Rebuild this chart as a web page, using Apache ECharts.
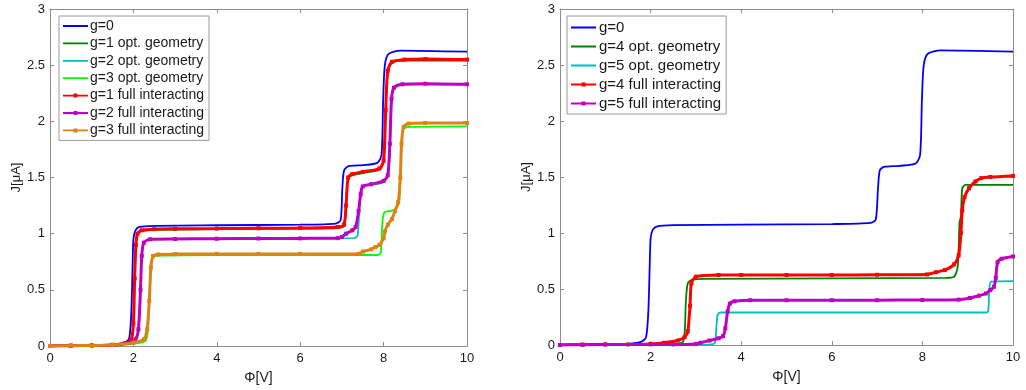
<!DOCTYPE html>
<html>
<head>
<meta charset="utf-8">
<script src="https://cdn.jsdelivr.net/npm/echarts@6/dist/echarts.min.js"></script>
<style>
html,body{margin:0;padding:0;background:#fff;}
#chart{width:1026px;height:390px;}
</style>
</head>
<body>
<div id="chart"></div>
<script>
// ---------- tick labels / axes ----------
const xTicks = [0, 2, 4, 6, 8, 10];
const yTicks = [0, 0.5, 1, 1.5, 2, 2.5, 3];
const xLabel = 'Φ[V]';
const yLabel = 'J[μA]';

// ---------- left panel series names ----------
const leftNames = ['g=0', 'g=1 opt. geometry', 'g=2 opt. geometry', 'g=3 opt. geometry',
  'g=1 full interacting', 'g=2 full interacting', 'g=3 full interacting'];
// ---------- right panel series names ----------
const rightNames = ['g=0', 'g=4 opt. geometry', 'g=5 opt. geometry',
  'g=4 full interacting', 'g=5 full interacting'];

// ---------- left panel data [Φ, J] ----------
const L_g0 = [[0,0],[1,0.005],[1.5,0.01],[1.8,0.03],[1.9,0.07],[1.95,0.3],[1.98,0.7],[2.0,0.95],[2.05,1.03],[2.15,1.06],[2.5,1.07],[4,1.075],[6,1.08],[6.85,1.09],[6.97,1.12],[7.01,1.4],[7.05,1.56],[7.15,1.6],[7.5,1.61],[7.85,1.63],[7.95,1.7],[7.99,2.2],[8.03,2.5],[8.12,2.6],[8.4,2.63],[10,2.62]];
const L_g1opt = [[0,0],[1,0.005],[1.5,0.01],[1.8,0.02],[1.95,0.05],[2.0,0.2],[2.03,0.6],[2.06,0.9],[2.1,1.0],[2.2,1.025],[2.5,1.035],[4,1.04],[6,1.045],[6.9,1.05],[7.05,1.07],[7.1,1.3],[7.15,1.49],[7.25,1.52],[7.5,1.54],[7.9,1.57],[8.0,1.64],[8.05,2.1],[8.1,2.44],[8.2,2.52],[8.5,2.54],[10,2.54]];
const L_g2opt = [[0,0],[1,0.005],[1.5,0.01],[1.9,0.03],[2.1,0.08],[2.15,0.3],[2.2,0.8],[2.25,0.92],[2.4,0.95],[4,0.955],[7.3,0.96],[7.38,0.99],[7.42,1.25],[7.46,1.4],[7.55,1.43],[7.8,1.44],[8.0,1.46],[8.12,1.55],[8.17,2.0],[8.22,2.28],[8.35,2.33],[10,2.33]];
const L_g3opt = [[0,0],[1,0.005],[1.5,0.01],[2.0,0.02],[2.3,0.05],[2.37,0.3],[2.42,0.7],[2.47,0.79],[2.6,0.805],[4,0.81],[7.85,0.81],[7.93,0.83],[7.97,1.1],[8.02,1.19],[8.15,1.2],[8.3,1.22],[8.38,1.3],[8.43,1.8],[8.47,1.93],[8.6,1.95],[10,1.955]];
const L_g1full = [[0,0],[0.5,0.003],[1,0.005],[1.5,0.01],[1.8,0.025],[1.95,0.06],[2.0,0.2],[2.03,0.6],[2.06,0.9],[2.1,1.0],[2.2,1.03],[2.5,1.04],[3,1.043],[4,1.045],[5,1.048],[6,1.05],[6.9,1.06],[7.05,1.08],[7.1,1.25],[7.15,1.5],[7.25,1.53],[7.5,1.55],[7.9,1.58],[8.0,1.65],[8.05,2.1],[8.1,2.45],[8.2,2.53],[8.5,2.55],[9,2.555],[10,2.55]];
const L_g2full = [[0,0],[0.5,0.003],[1,0.005],[1.5,0.01],[1.9,0.03],[2.05,0.06],[2.12,0.15],[2.17,0.5],[2.2,0.8],[2.25,0.92],[2.4,0.95],[3,0.953],[4,0.955],[5,0.957],[6,0.958],[6.9,0.96],[7.0,0.97],[7.1,1.0],[7.25,1.03],[7.33,1.06],[7.4,1.2],[7.45,1.35],[7.5,1.42],[7.7,1.44],[8.0,1.47],[8.1,1.52],[8.15,1.8],[8.19,2.2],[8.25,2.3],[8.45,2.33],[9,2.335],[10,2.33]];
const L_g3full = [[0,0],[0.5,0.003],[1,0.005],[1.5,0.01],[2.0,0.03],[2.25,0.06],[2.33,0.15],[2.38,0.4],[2.42,0.7],[2.47,0.8],[2.6,0.815],[3,0.818],[4,0.82],[5,0.82],[6,0.82],[7.4,0.82],[7.5,0.84],[7.7,0.86],[7.8,0.88],[7.9,0.9],[8.0,0.96],[8.03,1.02],[8.1,1.08],[8.2,1.13],[8.27,1.2],[8.35,1.28],[8.4,1.5],[8.43,1.8],[8.48,1.95],[8.6,1.98],[9,1.985],[10,1.985]];

// ---------- right panel data [Φ, J] ----------
const R_g0 = [[0,0],[1,0.005],[1.5,0.01],[1.8,0.03],[1.9,0.07],[1.95,0.3],[1.98,0.7],[2.0,0.95],[2.05,1.03],[2.15,1.06],[2.5,1.07],[4,1.075],[6,1.08],[6.85,1.09],[6.97,1.12],[7.02,1.4],[7.06,1.56],[7.15,1.59],[7.5,1.6],[7.85,1.62],[7.95,1.7],[7.99,2.2],[8.03,2.5],[8.12,2.6],[8.4,2.63],[10,2.62]];
const R_g4opt = [[0,0],[2.0,0.005],[2.5,0.01],[2.7,0.02],[2.75,0.1],[2.78,0.4],[2.82,0.55],[2.9,0.58],[3.2,0.59],[6,0.595],[8.5,0.6],[8.7,0.61],[8.78,0.7],[8.82,1.1],[8.85,1.15],[8.88,1.4],[8.95,1.43],[10,1.43]];
const R_g5opt = [[0,0],[3.3,0.005],[3.42,0.02],[3.45,0.15],[3.48,0.27],[3.55,0.29],[6,0.29],[9.4,0.29],[9.45,0.3],[9.48,0.5],[9.52,0.565],[10,0.57]];
const R_g4full = [[0,0],[0.5,0.003],[1,0.005],[1.5,0.005],[2.0,0.01],[2.3,0.02],[2.6,0.04],[2.75,0.07],[2.82,0.12],[2.87,0.35],[2.9,0.55],[3.0,0.61],[3.5,0.625],[4,0.625],[5,0.625],[6,0.625],[7,0.627],[8.1,0.63],[8.3,0.65],[8.5,0.67],[8.7,0.72],[8.8,0.8],[8.85,1.0],[8.88,1.2],[8.93,1.32],[9.03,1.4],[9.17,1.46],[9.3,1.49],[9.5,1.5],[10,1.51]];
const R_g5full = [[0,0],[0.5,0.003],[1,0.005],[2,0.005],[2.5,0.005],[3.0,0.01],[3.1,0.02],[3.3,0.04],[3.5,0.06],[3.6,0.08],[3.65,0.15],[3.7,0.3],[3.75,0.37],[3.85,0.39],[4.2,0.4],[5,0.4],[6,0.4],[7,0.4],[8,0.402],[8.8,0.405],[9.05,0.42],[9.25,0.44],[9.4,0.46],[9.5,0.49],[9.58,0.52],[9.62,0.6],[9.66,0.74],[9.75,0.77],[10,0.79]];

// ---------- colours ----------
const C = {
  blue: '#0000ff', dgreen: '#008000', cyan: '#00bfbf', lgreen: '#00ff00',
  red: '#ff0000', magenta: '#bf00bf', orange: '#de8214'
};

const FONT = 'Liberation Sans';
const axisCol = '#8c8c8c';
const txtCol = '#1a1a1a';

// legend icons (line sample, and line sample with a small square marker)
const ICON_LINE = 'path://M0,0h0.01v0.01h-0.01z M0,1.6h25v1.8h-25z M24.99,4.99h0.01v0.01h-0.01z';
const ICON_MARK = 'path://M0,0h0.01v0.01h-0.01z M0,1.6h25v1.8h-25z M10.5,0.5h4v4h-4z M24.99,4.99h0.01v0.01h-0.01z';

function xAx(gi, pos) {
  const main = pos === 'bottom';
  return {
    type: 'value', gridIndex: gi, position: pos, min: 0, max: 10, interval: 2,
    name: main ? xLabel : '', nameLocation: 'middle', nameGap: 25,
    nameTextStyle: { fontFamily: FONT, fontSize: 14, color: txtCol },
    axisLine: { show: true, onZero: false, lineStyle: { color: axisCol, width: 1 } },
    axisTick: { show: true, inside: true, length: 4, lineStyle: { color: axisCol } },
    axisLabel: { show: main, fontFamily: FONT, fontSize: 13, color: txtCol, margin: 6 },
    splitLine: { show: false }
  };
}
function yAx(gi, pos) {
  const main = pos === 'left';
  return {
    type: 'value', gridIndex: gi, position: pos, min: 0, max: 3, interval: 0.5,
    name: main ? yLabel : '', nameLocation: 'middle', nameGap: 25, nameRotate: 90,
    nameTextStyle: { fontFamily: FONT, fontSize: 13, color: txtCol },
    axisLine: { show: true, onZero: false, lineStyle: { color: axisCol, width: 1 } },
    axisTick: { show: true, inside: true, length: 4, lineStyle: { color: axisCol } },
    axisLabel: { show: main, fontFamily: FONT, fontSize: 13, color: txtCol, margin: 5 },
    splitLine: { show: false }
  };
}

function plain(name, data, color, gi, z) {
  return {
    name, type: 'line', data, xAxisIndex: gi * 2, yAxisIndex: gi * 2,
    smooth: 0.25, symbol: 'none', showSymbol: false, z: z,
    lineStyle: { color, width: 1.8 }, itemStyle: { color }
  };
}
function marked(name, data, color, gi, z) {
  return {
    name, type: 'line', data, xAxisIndex: gi * 2, yAxisIndex: gi * 2,
    smooth: 0.25, symbol: 'rect', symbolSize: 4, showSymbol: true, showAllSymbol: true, z: z,
    lineStyle: { color, width: 3 }, itemStyle: { color }
  };
}

const leftData = [L_g0, L_g1opt, L_g2opt, L_g3opt, L_g1full, L_g2full, L_g3full];
const leftCols = [C.blue, C.dgreen, C.cyan, C.lgreen, C.red, C.magenta, C.orange];
const rightData = [R_g0, R_g4opt, R_g5opt, R_g4full, R_g5full];
const rightCols = [C.blue, C.dgreen, C.cyan, C.red, C.magenta];

const series = [];
leftNames.forEach((n, i) => {
  series.push(i >= 4 ? marked(n, leftData[i], leftCols[i], 0, 2 + i) : plain(n, leftData[i], leftCols[i], 0, 2 + i));
});
rightNames.forEach((n, i) => {
  series.push(i >= 3 ? marked(n, rightData[i], rightCols[i], 1, 2 + i) : plain(n, rightData[i], rightCols[i], 1, 2 + i));
});

const leftLegend = leftNames.map((n, i) => ({ name: n, icon: i >= 4 ? ICON_MARK : ICON_LINE, itemStyle: { color: leftCols[i] } }));
const rightLegend = rightNames.map((n, i) => ({ name: n, icon: i >= 3 ? ICON_MARK : ICON_LINE, itemStyle: { color: rightCols[i] } }));

const chart = echarts.init(document.getElementById('chart'), null, { renderer: 'canvas' });
chart.setOption({
  animation: false,
  backgroundColor: '#ffffff',
  grid: [
    { left: 50, top: 9, width: 417, height: 339, containLabel: false },
    { left: 560, top: 9, width: 453, height: 336, containLabel: false }
  ],
  xAxis: [xAx(0, 'bottom'), xAx(0, 'top'), xAx(1, 'bottom'), xAx(1, 'top')],
  yAxis: [yAx(0, 'left'), yAx(0, 'right'), yAx(1, 'left'), yAx(1, 'right')],
  legend: [
    {
      orient: 'vertical', left: 59, top: 16, data: leftLegend,
      selectedMode: false, itemWidth: 25, itemHeight: 5, itemGap: 3.4,
      padding: [3, 5, 3, 4], borderColor: '#9a9a9a', borderWidth: 1, backgroundColor: '#fff',
      textStyle: { fontFamily: FONT, fontSize: 14, color: txtCol, lineHeight: 12.8, padding: [0, 0, 0, -3] }
    },
    {
      orient: 'vertical', left: 567, top: 16, data: rightLegend,
      selectedMode: false, itemWidth: 27, itemHeight: 5, itemGap: 4.0,
      padding: [4, 5, 3, 4], borderColor: '#9a9a9a', borderWidth: 1, backgroundColor: '#fff',
      textStyle: { fontFamily: FONT, fontSize: 15, color: txtCol, lineHeight: 14, padding: [0, 0, 0, -3] }
    }
  ],
  series: series
});
</script>
</body>
</html>
